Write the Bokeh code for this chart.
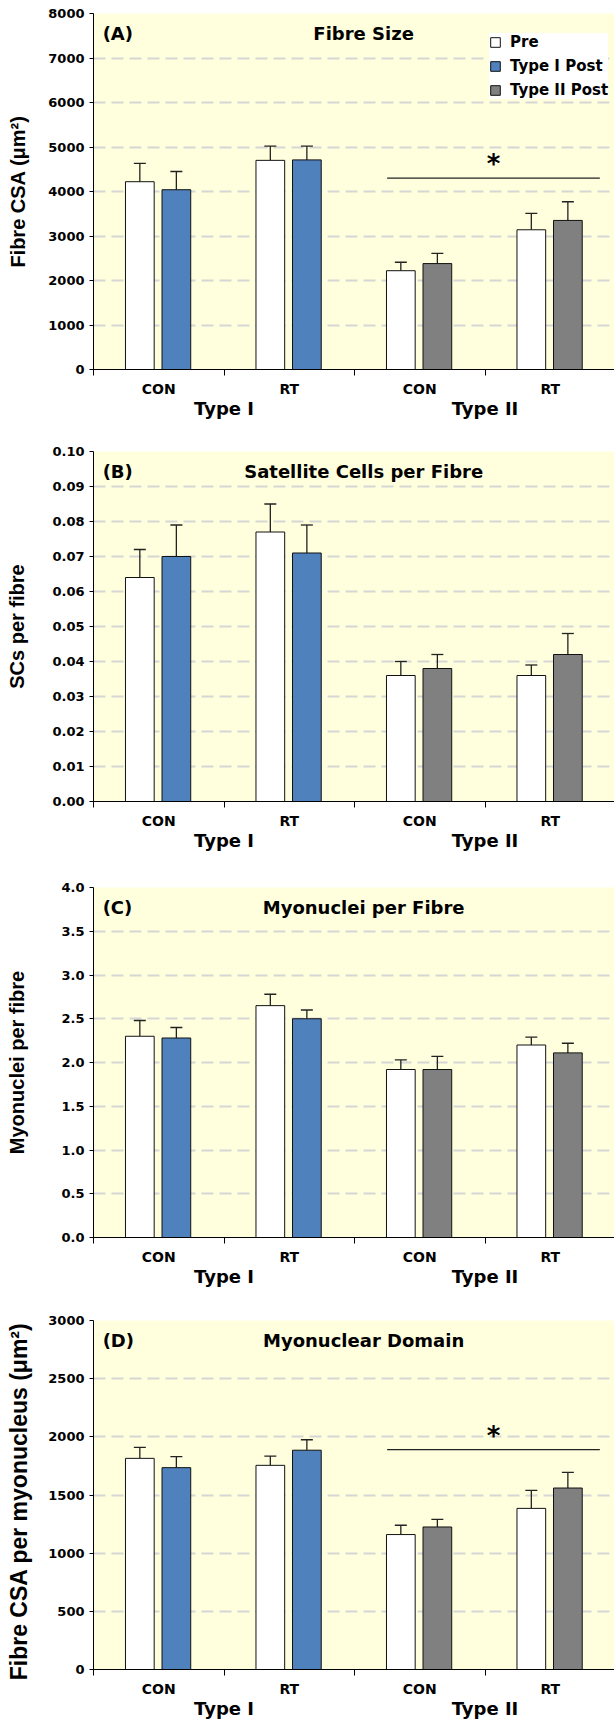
from bokeh.plotting import figure
from bokeh.models import (FixedTicker, LinearAxis, Range1d, Legend, LegendItem,
                          Label, Whisker, TeeHead, ColumnDataSource, NumeralTickFormatter)
from bokeh.layouts import column
from bokeh.embed import file_html
from bokeh.resources import INLINE
from bokeh.core.properties import value

# ---------------- data ----------------
categories = ["CON", "RT", "CON", "RT"]
category_group = [0, 0, 1, 1]          # index into groups
groups = ["Type I", "Type II"]
legend_labels = ["Pre", "Type I Post", "Type II Post"]

# (A) Fibre size, fibre CSA (um^2)
csa_pre = [4220, 4700, 2220, 3140]
csa_pre_sem = [410, 320, 190, 370]
csa_post = [4040, 4710, 2380, 3350]
csa_post_sem = [410, 310, 230, 420]
csa_ticks = [0, 1000, 2000, 3000, 4000, 5000, 6000, 7000, 8000]
csa_sig = 4300

# (B) Satellite cells per fibre
sc_pre = [0.064, 0.077, 0.036, 0.036]
sc_pre_sem = [0.008, 0.008, 0.004, 0.003]
sc_post = [0.070, 0.071, 0.038, 0.042]
sc_post_sem = [0.009, 0.008, 0.004, 0.006]
sc_ticks = [0.00, 0.01, 0.02, 0.03, 0.04, 0.05, 0.06, 0.07, 0.08, 0.09, 0.10]

# (C) Myonuclei per fibre
mn_pre = [2.30, 2.65, 1.92, 2.20]
mn_pre_sem = [0.18, 0.13, 0.11, 0.09]
mn_post = [2.28, 2.50, 1.92, 2.11]
mn_post_sem = [0.12, 0.10, 0.15, 0.11]
mn_ticks = [0.0, 0.5, 1.0, 1.5, 2.0, 2.5, 3.0, 3.5, 4.0]

# (D) Myonuclear domain
md_pre = [1815, 1755, 1160, 1385]
md_pre_sem = [95, 80, 80, 155]
md_post = [1735, 1885, 1225, 1560]
md_post_sem = [95, 90, 65, 135]
md_ticks = [0, 500, 1000, 1500, 2000, 2500, 3000]
md_sig = 1890

# ---------------- style ----------------
PRE_COLOR = "#FFFFFF"
GROUP_COLORS = ["#4F81BD", "#808080"]
BG = "#FFFFDD"
GRID = "#D6D6D6"
W = 614
LEFT = 93
X_END = 8 * (W - LEFT) / 522.0     # each category spans 2 units
TFONT = "DejaVu Sans"
LFONT = "Liberation Sans"
NBSP = "\u00a0"


def make_panel(letter, title, ylabel, ylabel_size, ticks, fmt, pre, pre_sem,
               post, post_sem, height, top, frame_h, label_standoff,
               sub_standoff=5, grp_standoff=-2, sig=None, legend=False):
    bottom = height - top - frame_h
    ymax = ticks[-1]
    p = figure(width=W, height=height, output_backend="svg", toolbar_location=None,
               x_range=Range1d(0, X_END), y_range=Range1d(0, ymax),
               min_border_left=LEFT, min_border_right=0, min_border_top=top,
               min_border_bottom=bottom)
    p.background_fill_color = BG
    p.border_fill_color = "white"
    p.outline_line_color = None

    n = len(categories)
    pre_x = [2 * i + 0.71 for i in range(n)]
    post_x = [2 * i + 1.27 for i in range(n)]
    post_colors = [GROUP_COLORS[g] for g in category_group]

    src_pre = ColumnDataSource(dict(x=pre_x, top=pre,
                                    up=[a + b for a, b in zip(pre, pre_sem)]))
    src_post = ColumnDataSource(dict(x=post_x, top=post, color=post_colors,
                                     up=[a + b for a, b in zip(post, post_sem)]))
    r_pre = p.vbar(x="x", top="top", width=0.44, source=src_pre,
                   fill_color=PRE_COLOR, line_color="#111111", line_width=1)
    r_post = p.vbar(x="x", top="top", width=0.44, source=src_post,
                    fill_color="color", line_color="#111111", line_width=1)
    for s in (src_pre, src_post):
        p.add_layout(Whisker(source=s, base="x", lower="top", upper="up",
                             dimension="height", line_color="#222222", line_width=1.3,
                             upper_head=TeeHead(size=12, line_color="#222222",
                                                line_width=1.3),
                             lower_head=None))

    if sig is not None:
        sx = [4.5, 7.76]
        p.line(x=sx, y=[sig, sig], line_color="#222222", line_width=1.2)
        p.text(x=[sum(sx) / 2], y=[sig], text=["*"], text_font=value(TFONT),
               text_font_style="bold", text_font_size="26px", text_align="center",
               text_baseline="alphabetic", y_offset=-14, text_color="black")

    # y axis
    yt = FixedTicker(ticks=ticks)
    p.yaxis.ticker = yt
    p.ygrid.ticker = yt
    p.yaxis.formatter = NumeralTickFormatter(format=fmt)
    p.yaxis.major_label_text_font = TFONT
    p.yaxis.major_label_text_font_style = "bold"
    p.yaxis.major_label_text_font_size = "13px"
    p.yaxis.major_label_text_color = "black"
    p.yaxis.major_tick_out = 4
    p.yaxis.major_tick_in = 0
    p.yaxis.minor_tick_line_color = None
    p.yaxis.axis_line_color = "black"
    p.yaxis.major_tick_line_color = "black"
    p.yaxis.axis_label = ylabel
    p.yaxis.axis_label_text_font = LFONT
    p.yaxis.axis_label_text_font_style = "bold"
    p.yaxis.axis_label_text_font_size = ylabel_size
    p.yaxis.axis_label_text_color = "black"
    p.yaxis.axis_label_standoff = label_standoff
    p.ygrid.grid_line_color = GRID
    p.ygrid.grid_line_width = 2
    p.ygrid.grid_line_dash = "12 6"
    p.xgrid.visible = False

    # x axis: category labels with ticks at category boundaries
    xa = p.xaxis[0]
    xa.ticker = FixedTicker(ticks=[2 * i + 1 for i in range(n)],
                            minor_ticks=[2 * i for i in range(n)])
    xa.major_label_overrides = {2 * i + 1: c for i, c in enumerate(categories)}
    xa.major_tick_line_color = None
    xa.major_tick_out = 0
    xa.major_tick_in = 0
    xa.minor_tick_line_color = "black"
    xa.minor_tick_out = 6
    xa.minor_tick_in = 0
    xa.axis_line_color = "black"
    xa.major_label_text_font = TFONT
    xa.major_label_text_font_style = "bold"
    xa.major_label_text_font_size = "14px"
    xa.major_label_text_color = "black"
    xa.major_label_standoff = sub_standoff

    ga = LinearAxis(ticker=FixedTicker(ticks=[2, 6], minor_ticks=[]),
                    major_label_overrides={2: groups[0], 6: groups[1]},
                    axis_line_color=None, major_tick_line_color=None,
                    minor_tick_line_color=None, major_tick_out=0, major_tick_in=0,
                    major_label_text_font=TFONT, major_label_text_font_style="bold",
                    major_label_text_font_size="18px", major_label_text_color="black",
                    major_label_standoff=grp_standoff)
    p.add_layout(ga, "below")

    ylab = ymax * (1 - 20.0 / frame_h)
    p.add_layout(Label(x=0.14, y=ylab, text=letter, text_align="left",
                       text_baseline="middle", text_font=TFONT,
                       text_font_style="bold", text_font_size="18px",
                       text_color="black"))
    p.add_layout(Label(x=4.14, y=ylab, text=title, text_align="center",
                       text_baseline="middle", text_font=TFONT,
                       text_font_style="bold", text_font_size="18px",
                       text_color="black"))

    if legend:
        lg = Legend(items=[LegendItem(label=legend_labels[0], renderers=[r_pre], index=0),
                           LegendItem(label=legend_labels[1], renderers=[r_post], index=0),
                           LegendItem(label=legend_labels[2], renderers=[r_post], index=2)],
                    location=(396, frame_h - 86), orientation="vertical",
                    label_text_font=TFONT, label_text_font_style="bold",
                    label_text_font_size="15px", label_text_color="black",
                    glyph_width=12, glyph_height=12, label_standoff=9,
                    padding=9, spacing=6, label_height=16, margin=0,
                    border_line_color=None, background_fill_color="white",
                    background_fill_alpha=1.0)
        p.add_layout(lg)
    return p


pA = make_panel("(A)", "Fibre Size", "Fibre CSA (\u03bcm\u00b2)", "20px", csa_ticks, "0",
                csa_pre, csa_pre_sem, csa_post, csa_post_sem,
                height=436, top=13, frame_h=356, label_standoff=16,
                sig=csa_sig, legend=True)
pB = make_panel("(B)", "Satellite Cells per Fibre", "SCs per fibre", "20px", sc_ticks, "0.00",
                sc_pre, sc_pre_sem, sc_post, sc_post_sem,
                height=436, top=15, frame_h=350, label_standoff=21)
pC = make_panel("(C)", "Myonuclei per Fibre", "Myonuclei per fibre", "20px", mn_ticks, "0.0",
                mn_pre, mn_pre_sem, mn_post, mn_post_sem,
                height=435, top=15, frame_h=350, label_standoff=30)
pD = make_panel("(D)", "Myonuclear Domain",
                "Fibre CSA per myonucleus (\u03bcm\u00b2)" + NBSP * 2, "23px",
                md_ticks, "0", md_pre, md_pre_sem, md_post, md_post_sem,
                height=414, top=13, frame_h=349, label_standoff=13, sig=md_sig)

layout = column(pA, pB, pC, pD, spacing=0)
open("out.html", "w").write(file_html(layout, INLINE))
